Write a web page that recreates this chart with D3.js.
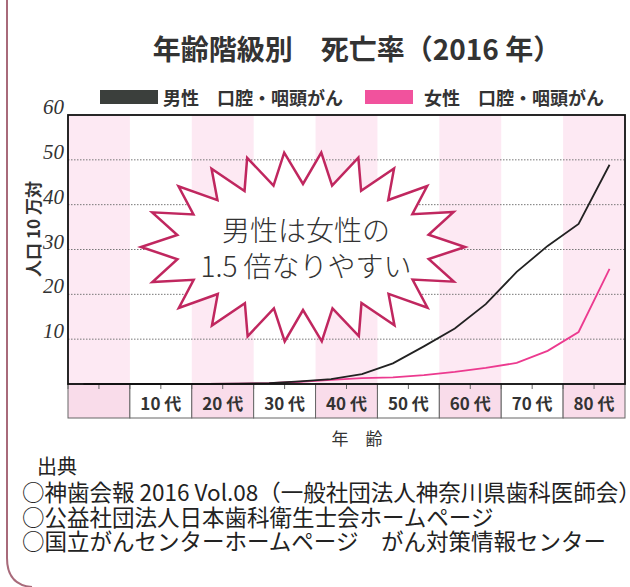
<!DOCTYPE html>
<html><head><meta charset="utf-8">
<script src="https://cdn.jsdelivr.net/npm/d3@7"></script>
<style>
html,body{margin:0;padding:0;background:#fff;}
svg{display:block;font-family:"Noto Sans CJK JP","Noto Sans",sans-serif;}
</style></head>
<body>
<svg id="chart" width="630" height="587"></svg>
<script>
// ---- data ----
const ageGroups = ["0-4","5-9","10-14","15-19","20-24","25-29","30-34","35-39","40-44","45-49","50-54","55-59","60-64","65-69","70-74","75-79","80-84","85+"];
const decadeLabels = ["", "10 代", "20 代", "30 代", "40 代", "50 代", "60 代", "70 代", "80 代"];
const maleRate   = [0, 0, 0, 0, 0, 0.1, 0.2, 0.6, 1.1, 2.2, 4.6, 8.4, 12.4, 17.8, 25.0, 30.8, 35.7, 48.9];
const femaleRate = [0, 0, 0, 0, 0, 0.1, 0.2, 0.5, 0.9, 1.3, 1.5, 2.0, 2.7, 3.6, 4.7, 7.4, 11.6, 25.7];
const yTicks = [10, 20, 30, 40, 50, 60];
const seriesNames = ["男性　口腔・咽頭がん", "女性　口腔・咽頭がん"];
const titleText = "年齢階級別　死亡率（2016 年）";
const calloutLines = ["男性は女性の", "1.5 倍なりやすい"];
const sourceLines = ["○神歯会報 2016 Vol.08（一般社団法人神奈川県歯科医師会）など",
                     "○公益社団法人日本歯科衛生士会ホームページ",
                     "○国立がんセンターホームページ　がん対策情報センター"];

// ---- layout ----
const svg = d3.select("#chart");
const L = 68, R = 625, T = 115, B = 384, catB = 418;
const colors = {male:"#222", female:"#ec3a8f", band:"#fde9f3", catPink:"#f9dcea", star:"#c0275f"};

const x = d3.scaleBand().domain(ageGroups).range([L, R]).padding(0);
const bw = x.bandwidth();
const y = d3.scaleLinear().domain([0, 60]).range([B, T]);

// decorative left border
svg.append("path").attr("d", "M7,0 L7,558 Q7,585 32,587")
  .attr("fill","none").attr("stroke","#a86a7a").attr("stroke-width",2);

// plot background bands (every other decade)
const decades = decadeLabels.map((d,i)=>({label:d, i, x0:x(ageGroups[2*i]), w:2*bw}));
svg.append("g").selectAll("rect").data(decades.filter(d=>d.i%2===0)).join("rect")
  .attr("x", d=>d.x0).attr("y", T).attr("width", d=>d.w).attr("height", B-T)
  .attr("fill", colors.band);

// gridlines
svg.append("g").selectAll("line").data(yTicks.filter(v=>v<60)).join("line")
  .attr("x1", L).attr("x2", R).attr("y1", d=>y(d)).attr("y2", d=>y(d))
  .attr("stroke","#777").attr("stroke-width",1).attr("stroke-dasharray","1.5,1.5");

// y tick labels
svg.append("g").selectAll("text").data(yTicks).join("text")
  .attr("x", L-4).attr("y", d=>y(d)-1)
  .attr("text-anchor","end")
  .attr("font-family","'Liberation Serif',serif").attr("font-style","italic")
  .attr("font-size",21).attr("fill","#333").text(d=>d);

// y axis title
svg.append("text").attr("transform","translate(32,229) rotate(-90)")
  .attr("text-anchor","middle").attr("dominant-baseline","central")
  .attr("font-size",17).attr("font-weight","bold").attr("fill","#333").text("人口 10 万対");

// category row
const cat = svg.append("g");
cat.selectAll("rect").data(decades).join("rect")
  .attr("x", d=>d.x0).attr("y", B).attr("width", d=>d.w).attr("height", catB-B)
  .attr("fill", d=>d.i%2===0?colors.catPink:"#fff").attr("stroke","#666").attr("stroke-width",1);
cat.selectAll("text").data(decades).join("text")
  .attr("x", d=>d.x0+d.w/2).attr("y", (B+catB)/2+1)
  .attr("text-anchor","middle").attr("dominant-baseline","central")
  .attr("font-size",17).attr("font-weight","bold").attr("fill","#333").text(d=>d.label);
// ticks at age-group boundaries
cat.selectAll("line").data(ageGroups).join("line")
  .attr("x1", d=>x(d)).attr("x2", d=>x(d)).attr("y1", B).attr("y2", B+5)
  .attr("stroke","#666").attr("stroke-width",1);

// x axis title
svg.append("text").attr("x",357).attr("y",437).attr("text-anchor","middle")
  .attr("dominant-baseline","central").attr("font-size",17).attr("fill","#333").text("年　齢");

// starburst callout
function starburst(cx, cy, rxO, ryO, rxI, ryI, n){
  const N = 2000, pts=[], cum=[0];
  for(let k=0;k<=N;k++){ const t=2*Math.PI*k/N; pts.push([rxO*Math.cos(t), ryO*Math.sin(t), t]); }
  for(let k=1;k<=N;k++){ cum.push(cum[k-1]+Math.hypot(pts[k][0]-pts[k-1][0], pts[k][1]-pts[k-1][1])); }
  const P = cum[N], out=[];
  let j=0;
  for(let m=0;m<2*n;m++){
    const s = P*m/(2*n);
    while(cum[j+1]<s) j++;
    const t = pts[j][2];
    const rx = m%2===0?rxO:rxI, ry = m%2===0?ryO:ryI;
    out.push([cx+rx*Math.cos(t), cy+ry*Math.sin(t)]);
  }
  return out;
}
const star = starburst(303, 247, 162, 95, 128, 63, 22);
svg.append("path").attr("d", d3.line()(star)+"Z")
  .attr("fill","#fff").attr("stroke",colors.star).attr("stroke-width",2.5).attr("stroke-linejoin","miter");

// lines
const line = d3.line().x((d,i)=>x(ageGroups[i])+bw/2).y(d=>y(d));
svg.append("path").datum(femaleRate).attr("d", line)
  .attr("fill","none").attr("stroke",colors.female).attr("stroke-width",1.8);
svg.append("path").datum(maleRate).attr("d", line)
  .attr("fill","none").attr("stroke",colors.male).attr("stroke-width",1.8);

// callout text
svg.append("g").selectAll("text").data(calloutLines).join("text")
  .attr("x",306).attr("y",(d,i)=>229+36*i).attr("text-anchor","middle")
  .attr("dominant-baseline","central").attr("font-size",28).attr("font-weight",300)
  .attr("fill","#333").text(d=>d);

// frame
svg.append("rect").attr("x",L).attr("y",T).attr("width",R-L).attr("height",B-T)
  .attr("fill","none").attr("stroke","#111").attr("stroke-width",1.8);

// title
svg.append("text").attr("x",357).attr("y",48).attr("text-anchor","middle")
  .attr("dominant-baseline","central").attr("font-size",28).attr("font-weight","bold")
  .attr("fill","#333").text(titleText);

// legend
const legend = svg.append("g");
const legItems = [{name:seriesNames[0], color:"#3b3f3c", rx:100, rw:58, tx:163},
                  {name:seriesNames[1], color:"#f1529d", rx:365, rw:48, tx:424}];
legend.selectAll("rect").data(legItems).join("rect")
  .attr("x",d=>d.rx).attr("y",90).attr("width",d=>d.rw).attr("height",14).attr("fill",d=>d.color);
legend.selectAll("text").data(legItems).join("text")
  .attr("x",d=>d.tx).attr("y",97).attr("dominant-baseline","central")
  .attr("font-size",18).attr("font-weight","bold").attr("fill","#333").text(d=>d.name);

// sources
svg.append("text").attr("x",37).attr("y",465).attr("dominant-baseline","central")
  .attr("font-size",20).attr("fill","#222").text("出典");
svg.append("g").selectAll("text").data(sourceLines).join("text")
  .attr("x",22).attr("y",(d,i)=>491+24.5*i).attr("dominant-baseline","central")
  .attr("font-size",22.5).attr("fill","#222").text(d=>d);
</script>
</body></html>
